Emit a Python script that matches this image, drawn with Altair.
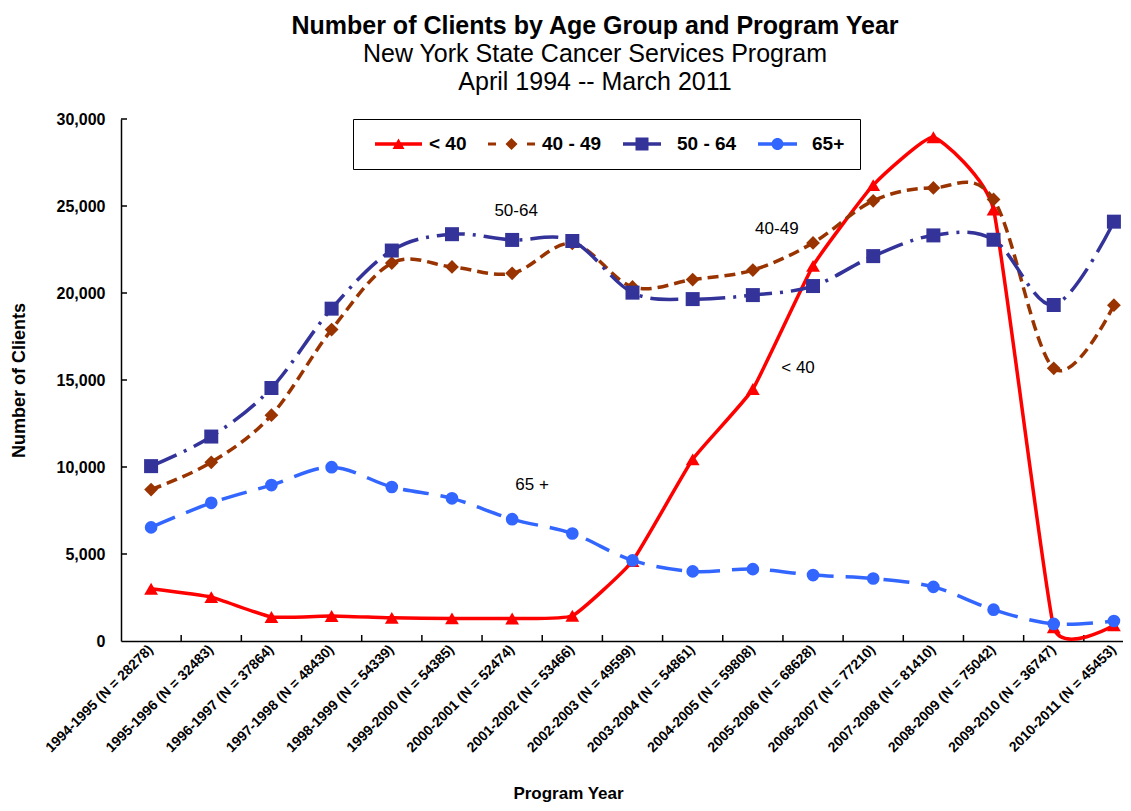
import altair as alt
import pandas as pd

years = [
    "1994-1995 (N = 28278)", "1995-1996 (N = 32483)", "1996-1997 (N = 37864)",
    "1997-1998 (N = 48430)", "1998-1999 (N = 54339)", "1999-2000 (N = 54385)",
    "2000-2001 (N = 52474)", "2001-2002 (N = 53466)", "2002-2003 (N = 49599)",
    "2003-2004 (N = 54861)", "2004-2005 (N = 59808)", "2005-2006 (N = 68628)",
    "2006-2007 (N = 77210)", "2007-2008 (N = 81410)", "2008-2009 (N = 75042)",
    "2009-2010 (N = 36747)", "2010-2011 (N = 45453)",
]
groups = ["< 40", "40 - 49", "50 - 64", "65+"]

lt40 = [3000, 2520, 1380, 1440, 1330, 1300, 1290, 1450, 4600, 10440, 14480,
        21560, 26200, 28950, 24800, 790, 900]
a40_49 = [8700, 10270, 12980, 17900, 21720, 21500, 21130, 22850, 20350, 20770,
          21320, 22880, 25300, 26040, 25380, 15670, 19300]
a50_64 = [10050, 11750, 14540, 19100, 22440, 23380, 23050, 22990, 20020, 19650,
          19880, 20400, 22120, 23310, 23060, 19310, 24100]
a65 = [6530, 7940, 8960, 9990, 8850, 8200, 7000, 6180, 4630, 4000, 4130, 3790,
       3590, 3110, 1800, 980, 1150]
series = [lt40, a40_49, a50_64, a65]

colors = ["#FF0000", "#993300", "#333399", "#3366FF"]
dashes = [None, [11, 6], [28, 8, 3, 8], [26, 12]]
tensions = [0.6, 0, 0, 0]
shapes = ["triangle-up", "diamond", "square", "circle"]
sizes = [190, 190, 196, 160]

# legend symbols: line segment + marker (custom paths)
legend_paths = [
    "M-0.3,-0.17H4.4V0.17H-0.3Z M1.45,0.5L2.05,-0.55L2.65,0.5Z",
    "M-0.3,-0.15H0.5V0.15H-0.3Z M3.6,-0.15H4.4V0.15H3.6Z M2.05,-0.6L2.65,0L2.05,0.6L1.45,0Z",
    "M-0.3,-0.17H3.5V0.17H-0.3Z M0.95,-0.65H2.25V0.65H0.95Z",
    "M-0.3,-0.17H3.6V0.17H-0.3Z M1.05,0A0.6,0.6 0 1,1 2.25,0A0.6,0.6 0 1,1 1.05,0Z",
]

ann_text = ["50-64", "40-49", "< 40", "65 +"]
ann_year = [years[6], years[10], years[11], years[6]]
ann_value = [24730, 23660, 15710, 8970]
ann_dx = [4, 24, -15, 20]

y_tick_values = [0, 5000, 10000, 15000, 20000, 25000, 30000]

FONT = "Liberation Sans"

xscale = alt.Scale(type="band", domain=years, range=[0, 1023], paddingInner=0, paddingOuter=0)
yscale = alt.Scale(domain=[0, 30000], nice=False, zero=True)

xaxis = alt.Axis(
    labelAngle=315, labelAlign="right", labelBaseline="middle", labelFont=FONT,
    labelFontSize=14, labelFontWeight="bold", labelColor="black", labelPadding=6,
    labelLimit=300, ticks=False, tickSize=0, domainColor="black", domainWidth=1.5,
    grid=False, titleFont=FONT, titleFontSize=17, titleFontWeight="bold",
    titleColor="black", titleX=447, titleY=152, titleBaseline="middle",
)
yaxis = alt.Axis(
    values=y_tick_values, format=",d", labelFont=FONT, labelFontSize=16,
    labelFontWeight="bold", labelColor="black", labelPadding=16, ticks=False,
    tickSize=0, domainColor="black", domainWidth=1.5, grid=False,
    titleFont=FONT, titleFontSize=18, titleFontWeight="bold", titleColor="black",
    titleAngle=270, titleX=-102, titleY=261, titleBaseline="middle", titleAlign="center",
)


def X(**kw):
    return alt.X("year:O", scale=xscale, axis=xaxis, title="Program Year", **kw)


def Y(field):
    return alt.Y(field + ":Q", scale=yscale, axis=yaxis, title="Number of Clients")


layers = []

# inward tick marks
xt = pd.DataFrame({"year": years[1:]})
layers.append(
    alt.Chart(xt).mark_rule(color="black", strokeWidth=1.5).encode(
        x=X(bandPosition=0), y=alt.datum(0), y2=alt.datum(345)
    )
)
yt = pd.DataFrame({"tick": y_tick_values[1:]})
layers.append(
    alt.Chart(yt).mark_rule(color="black", strokeWidth=1.5).encode(
        y=Y("tick"), x=alt.value(0), x2=alt.value(6)
    )
)

for vals, col, dash, ten in zip(series, colors, dashes, tensions):
    df = pd.DataFrame({"year": years, "value": vals})
    kw = dict(color=col, strokeWidth=3.5, interpolate="cardinal", clip=True)
    if ten:
        kw["tension"] = ten
    if dash is not None:
        kw["strokeDash"] = dash
    layers.append(alt.Chart(df).mark_line(**kw).encode(x=X(), y=Y("value")))

for vals, col, shp, sz in zip(series, colors, shapes, sizes):
    df = pd.DataFrame({"year": years, "value": vals})
    layers.append(
        alt.Chart(df).mark_point(shape=shp, filled=True, size=sz, color=col, opacity=1)
        .encode(x=X(), y=Y("value"))
    )

for t, yr, v, dx in zip(ann_text, ann_year, ann_value, ann_dx):
    df = pd.DataFrame({"year": [yr], "value": [v], "label": [t]})
    layers.append(
        alt.Chart(df).mark_text(font=FONT, fontSize=17, color="black", dx=dx)
        .encode(x=X(), y=Y("value"), text="label:N")
    )

legend_kw = dict(
    orient="none", legendX=232, legendY=0, direction="horizontal", title=None,
    strokeColor="black", fillColor="white", padding=15, labelFont=FONT,
    labelFontSize=19, labelFontWeight="bold", labelColor="black", symbolSize=400,
    symbolStrokeWidth=0, labelOffset=41, columnPadding=14,
)
leg = pd.DataFrame({"group": groups, "hide": [None] * 4})
layers.append(
    alt.Chart(leg).mark_point(filled=True, opacity=1).encode(
        y=Y("hide"),
        color=alt.Color("group:N", scale=alt.Scale(domain=groups, range=colors),
                        sort=groups, legend=alt.Legend(**legend_kw)),
        shape=alt.Shape("group:N", scale=alt.Scale(domain=groups, range=legend_paths),
                        sort=groups, legend=alt.Legend(**legend_kw)),
    )
)

chart = alt.layer(*layers).properties(
    width=1002,
    height=522,
    autosize="none",
    padding={"left": 113, "top": 111, "right": 0, "bottom": 162},
    title=alt.TitleParams(
        text="Number of Clients by Age Group and Program Year",
        subtitle=["New York State Cancer Services Program", "April 1994 -- March 2011"],
        font=FONT, fontSize=25, fontWeight="bold", color="black",
        subtitleFont=FONT, subtitleFontSize=25, subtitleColor="black",
        subtitleLineHeight=28, subtitlePadding=3, anchor="middle", dx=-27, offset=16,
    ),
).configure_view(stroke=None)

chart.save("out.html", embed_options={"renderer": "svg", "actions": False})
